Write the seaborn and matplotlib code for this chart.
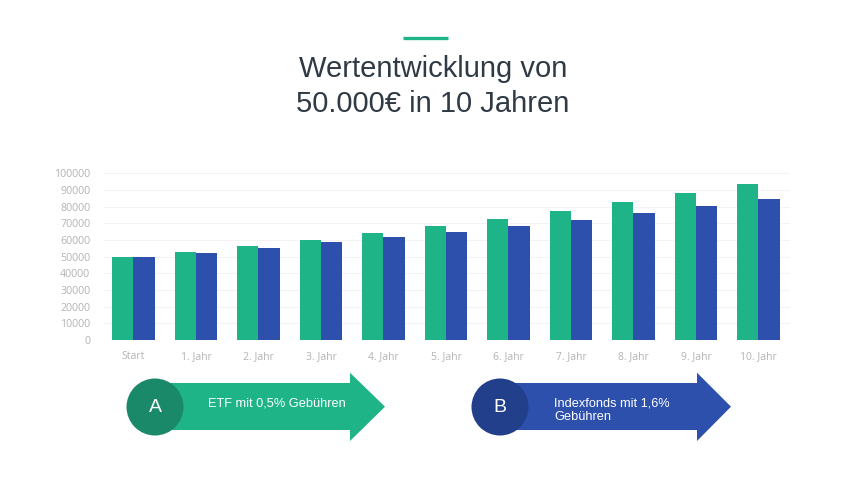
import matplotlib
matplotlib.use('Agg')
import matplotlib.pyplot as plt
import matplotlib.patches as mpatches
import seaborn as sns
import pandas as pd

# Werte
jahre = ['Start', '1. Jahr', '2. Jahr', '3. Jahr', '4. Jahr', '5. Jahr',
         '6. Jahr', '7. Jahr', '8. Jahr', '9. Jahr', '10. Jahr']
etf = [50000, 53000, 56500, 60200, 64300, 68400, 72800, 77600, 82600, 88000, 93800]
indexfonds = [50000, 52400, 55400, 58600, 61700, 65000, 68400, 72200, 76000, 80200, 84600]
serien = ['ETF', 'Indexfonds']
y_ticks = list(range(0, 100001, 10000))

green = '#1fb487'
blue = '#2e50ad'
green_dark = '#19896a'
blue_dark = '#223f8c'

df = pd.DataFrame({
    'Jahr': jahre * 2,
    'Wert': etf + indexfonds,
    'Fonds': [serien[0]] * len(jahre) + [serien[1]] * len(jahre),
})

sns.set_theme(style='white')
plt.rcParams['font.family'] = ['Open Sans', 'DejaVu Sans']

fig = plt.figure(figsize=(8.5, 4.78), dpi=100)
ax = fig.add_axes([0.121, 0.2887, 0.808, 0.349])

sns.barplot(data=df, x='Jahr', y='Wert', hue='Fonds', palette=[green, blue],
            width=0.68, saturation=1, gap=0, legend=False, ax=ax, zorder=3,
            linewidth=0, edgecolor='none')

ax.set_ylim(0, 100000)
ax.set_xlim(-0.49, 10.5)
ax.set_yticks(y_ticks)
ax.set_yticklabels([str(v) for v in y_ticks])
ax.grid(axis='y', color='#f3f3f3', linewidth=0.8, zorder=0)
ax.set_xlabel('')
ax.set_ylabel('')
for s in ax.spines.values():
    s.set_visible(False)
ax.tick_params(axis='both', length=0, labelsize=7.5, labelcolor='#b3b3b3')
ax.tick_params(axis='y', pad=9, labelsize=7.7)
ax.tick_params(axis='x', pad=8)

# Titel
fig.text(433 / 850, 1 - 77 / 478, 'Wertentwicklung von', ha='center', va='baseline',
         fontsize=21, color='#2f3a45', family='Liberation Sans')
fig.text(433 / 850, 1 - 112 / 478, '50.000€ in 10 Jahren', ha='center', va='baseline',
         fontsize=21, color='#2f3a45', family='Liberation Sans')

# Overlay in Pixelkoordinaten fuer Deko und Pfeile
ov = fig.add_axes([0, 0, 1, 1])
ov.set_xlim(0, 850)
ov.set_ylim(478, 0)
ov.axis('off')
ov.patch.set_alpha(0)

ov.plot([403, 448], [37.5, 37.5], color=green, linewidth=2.4, solid_capstyle='butt')


def arrow(x0, x1, tip, color, dark, letter, lines, tx, ty):
    pts = [(x0, 383), (x1, 383), (x1, 372.7), (tip, 406.7), (x1, 441), (x1, 430), (x0, 430)]
    ov.add_patch(mpatches.Polygon(pts, closed=True, color=color, linewidth=0))
    ov.add_patch(mpatches.Circle((x0, 407), 28.5, color=dark, linewidth=0))
    ov.text(x0, 408, letter, ha='center', va='center', color='white',
            fontsize=14, family='Liberation Sans')
    for i, line in enumerate(lines):
        ov.text(tx, ty + i * 13.5, line, ha='left', va='center', color='white',
                fontsize=9.2, family='Liberation Sans')


arrow(155, 350, 385, green, green_dark, 'A', ['ETF mit 0,5% Gebühren'], 208, 403)
arrow(500, 697, 731, blue, blue_dark, 'B', ['Indexfonds mit 1,6%', 'Gebühren'], 554, 403)

fig.savefig('out.png', dpi=100, facecolor='white')
